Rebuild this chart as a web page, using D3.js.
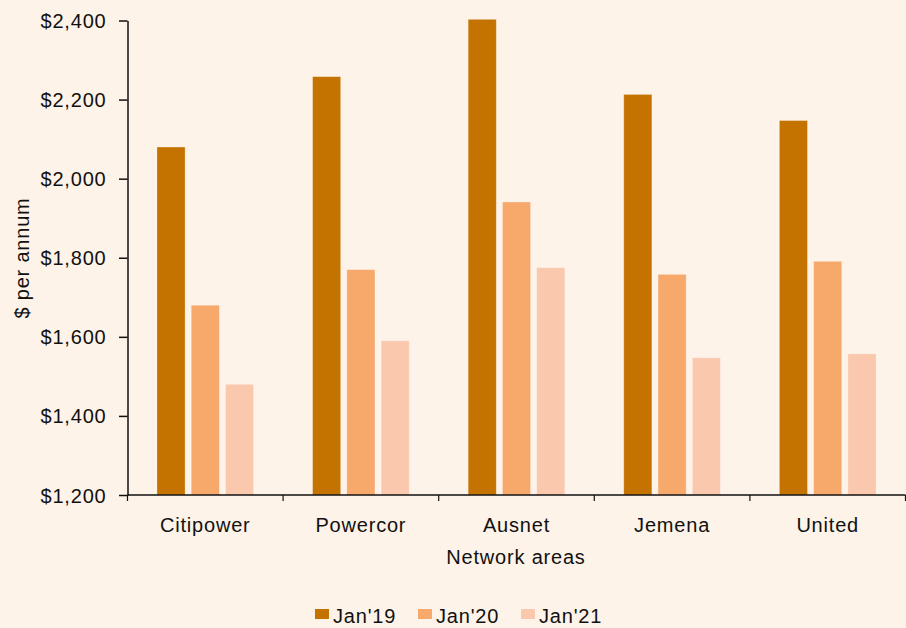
<!DOCTYPE html>
<html>
<head>
<meta charset="utf-8">
<script src="https://cdn.jsdelivr.net/npm/d3@7"></script>
<style>
  body { margin: 0; background: #fdf3e8; }
  svg text { font-family: "Liberation Sans", Arial, Helvetica, sans-serif; fill: #111; }
</style>
</head>
<body>
<script>
  // network areas and the three survey dates
  var areas = ["Citipower", "Powercor", "Ausnet", "Jemena", "United"];
  var seriesNames = ["Jan'19", "Jan'20", "Jan'21"];

  // annual bill, $ per annum, one array per date
  var jan19 = [2080, 2258, 2403, 2213, 2147];
  var jan20 = [1680, 1770, 1941, 1758, 1791];
  var jan21 = [1480, 1590, 1775, 1547, 1557];

  var yTicks = [1200, 1400, 1600, 1800, 2000, 2200, 2400];
  var colours = ["#c47200", "#f7a86b", "#f9c8ad"];

  var width = 906,
    height = 628;

  var svg = d3.select("body").append("svg")
    .attr("width", width)
    .attr("height", height);

  svg.append("rect")
    .attr("width", width)
    .attr("height", height)
    .attr("fill", "#fdf3e8");

  var allSeries = [jan19, jan20, jan21];

  var x0 = d3.scaleBand()
    .domain(areas)
    .range([127.5, 905.5])
    .paddingInner(0)
    .paddingOuter(0);

  var x1 = d3.scaleBand()
    .domain(seriesNames)
    .range([0, x0.bandwidth()])
    .paddingInner(0.18)
    .paddingOuter(0.86);

  var y = d3.scaleLinear()
    .domain([1200, 2400])
    .range([495, 20.5]);

  //one group per network area, bars for each date inside
  var groups = svg.selectAll("g.area")
    .data(areas)
    .enter().append("g")
    .attr("class", "area")
    .attr("transform", function(d) { return "translate(" + x0(d) + ",0)"; });

  groups.selectAll("rect")
    .data(function(d, i) {
      return seriesNames.map(function(s, j) {
        return { series: s, value: allSeries[j][i], idx: j };
      });
    })
    .enter().append("rect")
    .attr("x", function(d) { return x1(d.series); })
    .attr("y", function(d) { return y(d.value); })
    .attr("width", x1.bandwidth())
    .attr("height", function(d) { return y(1200) - y(d.value); })
    .attr("fill", function(d) { return colours[d.idx]; })
    .attr("stroke", "#ffffff")
    .attr("stroke-opacity", 0.35)
    .attr("stroke-width", 0.8);

  var fontSize = "20px",
    spacing = "0.8px";

  // y axis
  var yAxis = svg.append("g")
    .attr("transform", "translate(127.5,0)")
    .call(d3.axisLeft(y)
      .tickValues(yTicks)
      .tickSize(8.5)
      .tickSizeOuter(0)
      .tickFormat(function(d) { return "$" + d3.format(",")(d); }));

  yAxis.selectAll("text")
    .style("font-size", fontSize)
    .style("letter-spacing", spacing)
    .attr("x", -21)
    .attr("dy", "0.35em");

  // x axis, ticks sit on band edges
  var xAxis = svg.append("g")
    .attr("transform", "translate(0,495)");

  xAxis.append("line")
    .attr("x1", 127.5)
    .attr("x2", 905.5)
    .attr("stroke", "#111")
    .attr("stroke-width", 1.5);

  xAxis.selectAll("line.tick")
    .data(areas.concat(["end"]))
    .enter().append("line")
    .attr("class", "tick")
    .attr("x1", function(d, i) { return 127.5 + i * x0.step(); })
    .attr("x2", function(d, i) { return 127.5 + i * x0.step(); })
    .attr("y1", 0)
    .attr("y2", 6)
    .attr("stroke", "#111")
    .attr("stroke-width", 1.2);

  xAxis.selectAll("text")
    .data(areas)
    .enter().append("text")
    .attr("x", function(d) { return x0(d) + x0.bandwidth() / 2; })
    .attr("y", 36.5)
    .attr("text-anchor", "middle")
    .style("font-size", fontSize)
    .style("letter-spacing", spacing)
    .text(function(d) { return d; });

  yAxis.selectAll("path, line")
    .attr("stroke", "#111")
    .attr("stroke-width", 1.5);

  // axis titles
  svg.append("text")
    .attr("transform", "translate(29,258) rotate(-90)")
    .attr("text-anchor", "middle")
    .style("font-size", fontSize)
    .style("letter-spacing", spacing)
    .text("$ per annum");

  svg.append("text")
    .attr("x", 516)
    .attr("y", 564)
    .attr("text-anchor", "middle")
    .style("font-size", fontSize)
    .style("letter-spacing", spacing)
    .text("Network areas");

  // legend
  var legend = svg.selectAll("g.legend")
    .data(seriesNames)
    .enter().append("g")
    .attr("class", "legend")
    .attr("transform", function(d, i) { return "translate(" + (315 + i * 103) + ",609)"; });

  legend.append("rect")
    .attr("width", 14)
    .attr("height", 10)
    .attr("fill", function(d, i) { return colours[i]; });

  legend.append("text")
    .attr("x", 18)
    .attr("y", 14)
    .style("font-size", fontSize)
    .style("letter-spacing", spacing)
    .text(function(d) { return d; });
</script>
</body>
</html>
